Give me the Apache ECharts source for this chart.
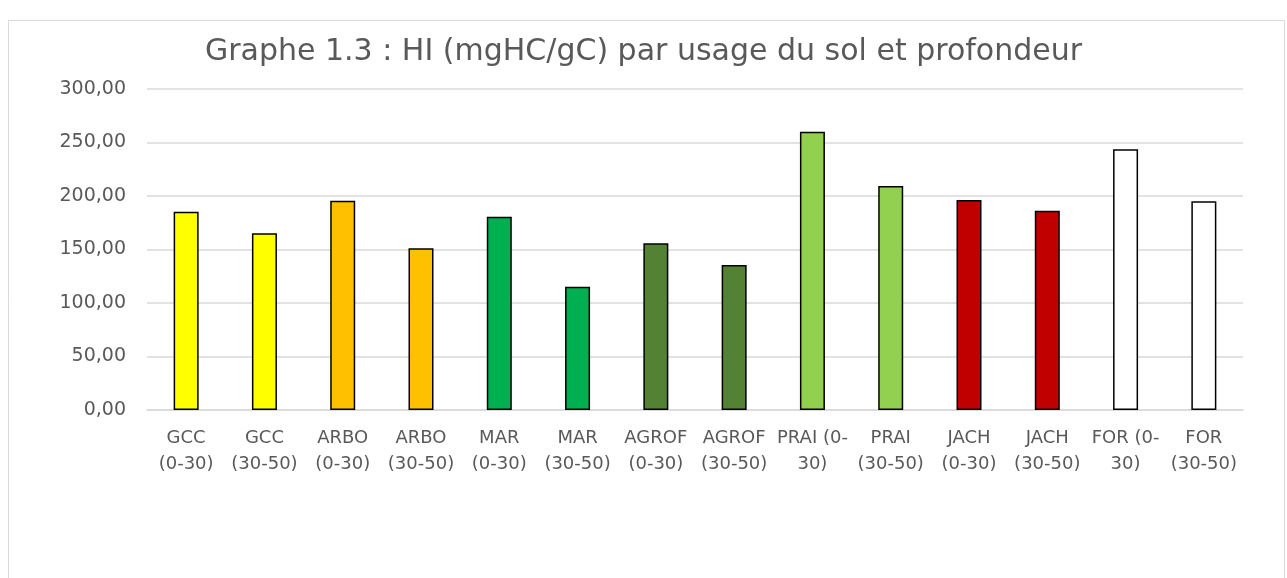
<!DOCTYPE html>
<html>
<head>
<meta charset="utf-8">
<script src="https://cdn.jsdelivr.net/npm/echarts@6/dist/echarts.min.js"></script>
<style>
  html, body { margin: 0; padding: 0; background: #fff; }
  #main { width: 1287px; height: 578px; }
</style>
</head>
<body>
<div id="main"></div>
<script>
// catégories (usage du sol + profondeur)
var categories = ['GCC\n(0-30)', 'GCC\n(30-50)', 'ARBO\n(0-30)', 'ARBO\n(30-50)', 'MAR\n(0-30)', 'MAR\n(30-50)',
    'AGROF\n(0-30)', 'AGROF\n(30-50)', 'PRAI (0-\n30)', 'PRAI\n(30-50)', 'JACH\n(0-30)', 'JACH\n(30-50)', 'FOR (0-\n30)', 'FOR\n(30-50)'];
// HI (mgHC/gC)
var hiValues = [185.1, 165.0, 195.4, 151.0, 180.5, 115.1, 155.6, 135.4, 259.9, 209.2, 196.1, 186.1, 243.4, 194.9];
var yTicks = { min: 0, max: 300, step: 50 };

// couleurs par usage du sol
var barColors = ['#FFFF00', '#FFFF00', '#FFC000', '#FFC000', '#00B050', '#00B050', '#548235', '#548235',
    '#92D050', '#92D050', '#C00000', '#C00000', '#FFFFFF', '#FFFFFF'];

var seriesData = [];
for (var i = 0; i < hiValues.length; i++) {
    seriesData.push({
        value: hiValues[i],
        itemStyle: { color: barColors[i] }
    });
}

var font = 'DejaVu Sans';
var myChart = echarts.init(document.getElementById('main'));
var option = {
    backgroundColor: '#fff',
    animation: false,
    title: {
        text: 'Graphe 1.3 : HI (mgHC/gC) par usage du sol et profondeur',
        left: 'center',
        top: 32,
        textStyle: {
            fontFamily: font,
            fontSize: 30,
            fontWeight: 'normal',
            color: '#595959'
        }
    },
    graphic: [{
        type: 'rect',
        shape: { x: 8.5, y: 20.5, width: 1276, height: 620 },
        style: { fill: 'none', stroke: '#d9d9d9', lineWidth: 1 },
        silent: true,
        z: -1
    }],
    grid: {
        left: 147,
        right: 44,
        top: 88.7,
        bottom: 168
    },
    xAxis: {
        type: 'category',
        data: categories,
        axisTick: { show: false },
        axisLine: { lineStyle: { color: '#d9d9d9', width: 1.5 } },
        axisLabel: {
            interval: 0,
            margin: 15,
            fontFamily: font,
            fontSize: 18,
            lineHeight: 26,
            color: '#595959'
        }
    },
    yAxis: {
        type: 'value',
        min: yTicks.min,
        max: yTicks.max,
        interval: yTicks.step,
        axisLine: { show: false },
        axisTick: { show: false },
        splitLine: { lineStyle: { color: '#d9d9d9', width: 1.5 } },
        axisLabel: {
            margin: 21,
            fontFamily: font,
            fontSize: 19,
            color: '#595959',
            formatter: function (v) {
                return v.toFixed(2).replace('.', ',');
            }
        }
    },
    series: [{
        type: 'bar',
        data: seriesData,
        barWidth: 25,
        itemStyle: {
            borderColor: '#000',
            borderWidth: 1.5
        }
    }]
};
myChart.setOption(option);
</script>
</body>
</html>
